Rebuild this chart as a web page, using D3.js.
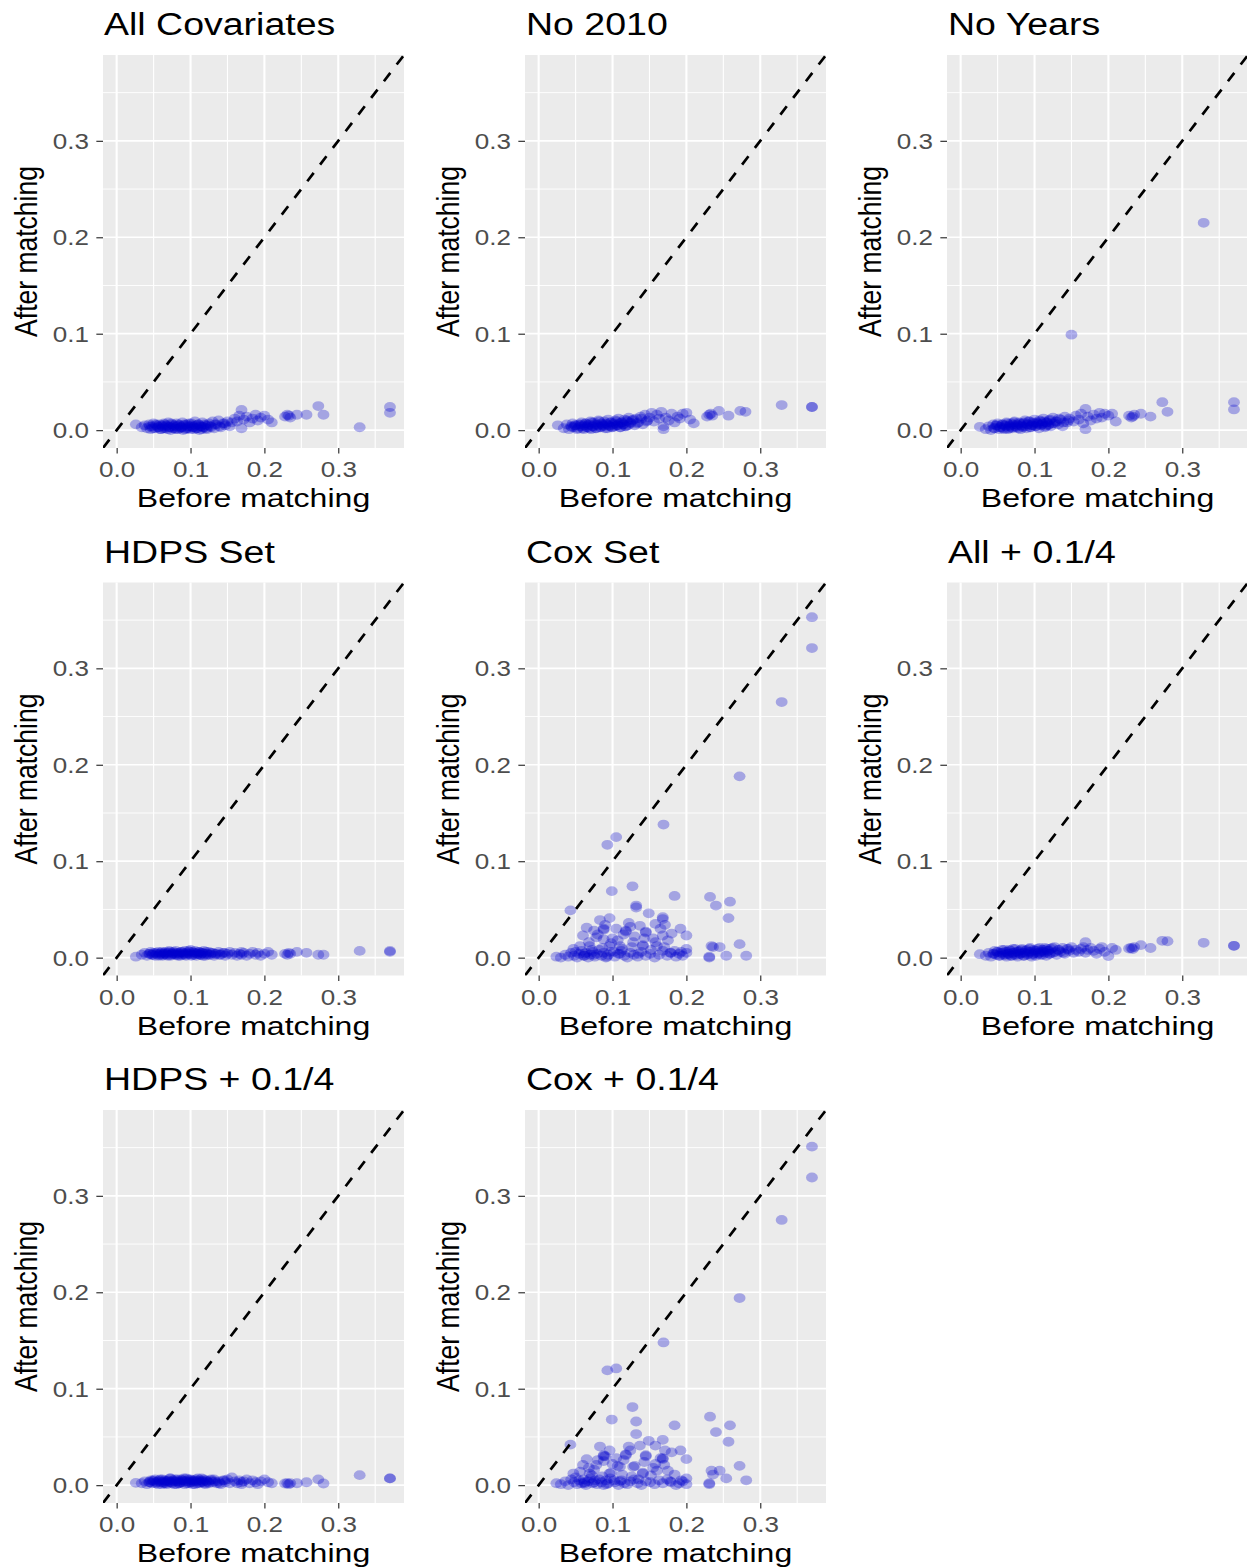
<!DOCTYPE html>
<html>
<head>
<meta charset="utf-8">
<script src="https://cdn.jsdelivr.net/npm/d3@7"></script>
<style>
  body { margin: 0; background: #ffffff; }
  svg text { font-family: "Liberation Sans", Arial, Helvetica, sans-serif; }
</style>
</head>
<body>
<div id="chart"></div>
<script>
// standardized differences before matching, shared by the full covariate sets
const mainBefore = [0.026,
  0.034, 0.038, 0.041, 0.044, 0.046, 0.048, 0.05, 0.052, 0.054, 0.056, 0.058,
  0.06, 0.062, 0.064, 0.066, 0.068, 0.07, 0.071, 0.073, 0.075, 0.077, 0.079, 0.081,
  0.083, 0.085, 0.087, 0.089, 0.09, 0.092, 0.094, 0.096, 0.098, 0.1, 0.102, 0.104,
  0.106, 0.108, 0.11, 0.112, 0.114, 0.116, 0.118, 0.12, 0.122, 0.125, 0.127, 0.13,
  0.132, 0.135, 0.138, 0.141, 0.144, 0.147, 0.15, 0.153, 0.156,
  0.16, 0.163, 0.166, 0.169, 0.169, 0.172, 0.176, 0.18, 0.184, 0.188, 0.191, 0.195, 0.2, 0.205, 0.21,
  0.228, 0.231, 0.233, 0.235,
  0.244, 0.257, 0.273, 0.28, 0.329, 0.37, 0.37,
  0.045, 0.049, 0.053, 0.057, 0.059, 0.061, 0.063, 0.065, 0.067, 0.069,
  0.072, 0.074, 0.076, 0.078, 0.08, 0.082, 0.084, 0.086, 0.088, 0.091,
  0.093, 0.095, 0.097, 0.099, 0.101, 0.103, 0.105, 0.107, 0.109, 0.111,
  0.113, 0.115, 0.117, 0.119, 0.121, 0.124, 0.128, 0.133, 0.139, 0.146];

const allCovariatesAfter = [0.006,
  0.003, 0.005, 0.002, 0.006, 0.001, 0.004, 0.007, 0.002, 0.005, 0.003, 0.006,
  0.001, 0.004, 0.007, 0.002, 0.005, 0.008, 0.003, 0.0, 0.006, 0.004, 0.002, 0.007,
  0.001, 0.005, 0.003, 0.008, 0.0, 0.006, 0.002, 0.004, 0.007, 0.001, 0.005, 0.003,
  0.009, 0.002, 0.006, 0.0, 0.004, 0.008, 0.003, 0.005, 0.001, 0.007, 0.004, 0.009,
  0.002, 0.006, 0.01, 0.003, 0.007, 0.005, 0.009, 0.004, 0.008,
  0.012, 0.009, 0.015, 0.021, 0.002, 0.011, 0.014, 0.008, 0.012, 0.016, 0.01, 0.013, 0.015, 0.011, 0.008,
  0.014, 0.016, 0.015, 0.013,
  0.016, 0.016, 0.025, 0.016, 0.003, 0.024, 0.018,
  0.004, 0.002, 0.006, 0.003, 0.001, 0.005, 0.002, 0.006, 0.004, 0.001,
  0.003, 0.007, 0.002, 0.005, 0.001, 0.004, 0.006, 0.002, 0.003, 0.005,
  0.001, 0.006, 0.002, 0.004, 0.007, 0.003, 0.001, 0.005, 0.002, 0.006,
  0.004, 0.001, 0.003, 0.006, 0.002, 0.005, 0.003, 0.006, 0.004, 0.007];

const no2010After = [0.005,
  0.002, 0.006, 0.001, 0.004, 0.007, 0.003, 0.005, 0.001, 0.006, 0.004, 0.008,
  0.002, 0.005, 0.007, 0.003, 0.006, 0.009, 0.001, 0.004, 0.008, 0.002, 0.006, 0.01,
  0.003, 0.007, 0.005, 0.009, 0.002, 0.006, 0.011, 0.004, 0.008, 0.003, 0.007, 0.01,
  0.005, 0.012, 0.003, 0.008, 0.006, 0.011, 0.004, 0.009, 0.013, 0.007, 0.01, 0.005,
  0.012, 0.008, 0.014, 0.006, 0.016, 0.01, 0.013, 0.018, 0.009,
  0.016, 0.012, 0.019, 0.004, 0.001, 0.013, 0.01, 0.017, 0.008, 0.014, 0.012, 0.017, 0.018, 0.011, 0.007,
  0.014, 0.016, 0.017, 0.015,
  0.02, 0.015, 0.02, 0.019, 0.026, 0.024, 0.024,
  0.003, 0.005, 0.002, 0.006, 0.004, 0.001, 0.007, 0.003, 0.005, 0.002,
  0.008, 0.004, 0.006, 0.002, 0.005, 0.009, 0.003, 0.006, 0.004, 0.007,
  0.002, 0.005, 0.008, 0.003, 0.006, 0.004, 0.009, 0.005, 0.007, 0.003,
  0.008, 0.006, 0.004, 0.01, 0.005, 0.008, 0.011, 0.007, 0.012, 0.009];

const noYearsAfter = [0.0035,
  0.001, 0.004, 0.0, 0.006, 0.002, 0.005, 0.007, 0.001, 0.003, 0.006, 0.002,
  0.005, 0.008, 0.001, 0.004, 0.007, 0.002, 0.006, 0.009, 0.003, 0.005, 0.008, 0.001,
  0.004, 0.007, 0.01, 0.002, 0.006, 0.009, 0.003, 0.005, 0.008, 0.011, 0.004, 0.007,
  0.002, 0.009, 0.006, 0.012, 0.003, 0.008, 0.005, 0.01, 0.004, 0.013, 0.007, 0.009,
  0.006, 0.011, 0.004, 0.014, 0.008, 0.012, 0.099, 0.009, 0.015,
  0.011, 0.017, 0.007, 0.022, 0.001, 0.014, 0.01, 0.016, 0.012, 0.018, 0.013, 0.017, 0.015, 0.017, 0.009,
  0.015, 0.013, 0.014, 0.016,
  0.017, 0.014, 0.029, 0.019, 0.215, 0.029, 0.0215,
  0.002, 0.005, 0.003, 0.006, 0.001, 0.004, 0.007, 0.002, 0.005, 0.003,
  0.008, 0.004, 0.006, 0.002, 0.007, 0.005, 0.003, 0.008, 0.004, 0.006,
  0.009, 0.003, 0.005, 0.007, 0.004, 0.008, 0.006, 0.01, 0.005, 0.007,
  0.009, 0.004, 0.008, 0.006, 0.011, 0.007, 0.009, 0.012, 0.008, 0.01];

const hdpsSetAfter = [0.001,
  0.003, 0.005, 0.002, 0.004, 0.006, 0.003, 0.005, 0.002, 0.004, 0.006, 0.003,
  0.005, 0.002, 0.004, 0.006, 0.003, 0.005, 0.007, 0.002, 0.004, 0.006, 0.003, 0.005,
  0.002, 0.004, 0.006, 0.003, 0.005, 0.007, 0.002, 0.004, 0.006, 0.008, 0.003, 0.005,
  0.007, 0.002, 0.004, 0.006, 0.003, 0.005, 0.007, 0.002, 0.004, 0.006, 0.003, 0.005,
  0.002, 0.004, 0.006, 0.003, 0.005, 0.002, 0.004, 0.006, 0.003,
  0.005, 0.002, 0.004, 0.006, 0.003, 0.005, 0.002, 0.004, 0.006, 0.003, 0.005, 0.002, 0.004, 0.006, 0.003,
  0.004, 0.003, 0.005, 0.004,
  0.006, 0.005, 0.003, 0.003, 0.007, 0.007, 0.006,
  0.004, 0.003, 0.005, 0.002, 0.004, 0.006, 0.003, 0.005, 0.004, 0.002,
  0.006, 0.003, 0.005, 0.004, 0.007, 0.003, 0.005, 0.002, 0.006, 0.004,
  0.003, 0.005, 0.007, 0.004, 0.002, 0.006, 0.003, 0.005, 0.004, 0.006,
  0.003, 0.005, 0.002, 0.004, 0.006, 0.003, 0.005, 0.004, 0.003, 0.005];

const allQuarterAfter = [0.0036,
  0.002, 0.005, 0.001, 0.004, 0.007, 0.003, 0.006, 0.002, 0.005, 0.008, 0.003,
  0.006, 0.001, 0.004, 0.008, 0.002, 0.005, 0.009, 0.003, 0.006, 0.001, 0.007, 0.004,
  0.009, 0.002, 0.005, 0.008, 0.003, 0.006, 0.01, 0.001, 0.004, 0.007, 0.002, 0.009,
  0.005, 0.003, 0.008, 0.006, 0.01, 0.002, 0.007, 0.004, 0.009, 0.005, 0.011, 0.003,
  0.008, 0.006, 0.01, 0.004, 0.009, 0.007, 0.011, 0.005, 0.008,
  0.006, 0.009, 0.011, 0.016, 0.005, 0.008, 0.01, 0.007, 0.004, 0.009, 0.011, 0.006, 0.0016, 0.01, 0.008,
  0.0095, 0.01, 0.009, 0.011,
  0.013, 0.01, 0.0175, 0.017, 0.0154, 0.0123, 0.0123,
  0.004, 0.006, 0.002, 0.005, 0.008, 0.003, 0.006, 0.004, 0.007, 0.002,
  0.005, 0.009, 0.003, 0.006, 0.004, 0.008, 0.005, 0.002, 0.007, 0.004,
  0.009, 0.006, 0.003, 0.008, 0.005, 0.007, 0.004, 0.01, 0.006, 0.003,
  0.008, 0.005, 0.009, 0.007, 0.004, 0.01, 0.006, 0.008, 0.005, 0.009];

const hdpsQuarterAfter = [0.0024,
  0.002, 0.004, 0.001, 0.003, 0.005, 0.002, 0.004, 0.006, 0.003, 0.001, 0.005,
  0.003, 0.006, 0.002, 0.004, 0.001, 0.005, 0.003, 0.007, 0.002, 0.004, 0.006, 0.001,
  0.004, 0.002, 0.006, 0.003, 0.005, 0.001, 0.007, 0.004, 0.002, 0.006, 0.003, 0.005,
  0.001, 0.004, 0.007, 0.002, 0.005, 0.003, 0.006, 0.001, 0.004, 0.002, 0.005, 0.003,
  0.006, 0.002, 0.004, 0.001, 0.005, 0.003, 0.006, 0.002, 0.008,
  0.004, 0.002, 0.005, 0.003, 0.001, 0.004, 0.006, 0.002, 0.005, 0.003, 0.001, 0.004, 0.006, 0.003, 0.002,
  0.0017, 0.002, 0.001, 0.002,
  0.002, 0.003, 0.006, 0.0017, 0.0104, 0.007, 0.007,
  0.003, 0.005, 0.002, 0.004, 0.006, 0.001, 0.003, 0.005, 0.002, 0.004,
  0.007, 0.003, 0.005, 0.001, 0.004, 0.006, 0.002, 0.003, 0.005, 0.007,
  0.004, 0.002, 0.006, 0.003, 0.005, 0.001, 0.004, 0.006, 0.002, 0.005,
  0.003, 0.007, 0.004, 0.002, 0.005, 0.003, 0.006, 0.004, 0.002, 0.005];

// Cox covariate set
const coxBefore = [
  0.37, 0.37, 0.329, 0.272, 0.169, 0.105, 0.093, 0.099, 0.127, 0.184, 0.232, 0.24, 0.259,
  0.257, 0.043, 0.132, 0.132, 0.272, 0.281, 0.254, 0.231, 0.231, 0.236, 0.245, 0.234,
  0.168, 0.168, 0.149, 0.171, 0.192, 0.2, 0.18, 0.168, 0.158, 0.145, 0.145, 0.118, 0.118, 0.115,
  0.096, 0.083, 0.065, 0.088, 0.088, 0.06, 0.088, 0.078, 0.124, 0.137, 0.128, 0.141, 0.141,
  0.11, 0.096, 0.069, 0.047, 0.17, 0.184, 0.2, 0.193, 0.158, 0.175, 0.105, 0.1, 0.075, 0.13, 0.155,
  0.024, 0.03, 0.036, 0.04, 0.044, 0.048, 0.052, 0.055, 0.058, 0.061, 0.064, 0.067, 0.07, 0.073,
  0.076, 0.079, 0.082, 0.085, 0.088, 0.091, 0.094, 0.097, 0.103, 0.108, 0.112, 0.116, 0.12, 0.124,
  0.129, 0.134, 0.139, 0.145, 0.151, 0.157, 0.163, 0.168, 0.174, 0.179, 0.186, 0.19, 0.195, 0.2,
  0.05, 0.056, 0.062, 0.068, 0.072, 0.08, 0.086, 0.09, 0.098, 0.102,
  0.107, 0.113, 0.122, 0.126, 0.135, 0.143, 0.152, 0.16, 0.165, 0.178,
  0.062, 0.075, 0.092, 0.11];

const coxSetAfter = [
  0.353, 0.321, 0.265, 0.188, 0.138, 0.125, 0.117, 0.069, 0.074, 0.064, 0.063, 0.054, 0.058,
  0.041, 0.049, 0.054, 0.052, 0.014, 0.002, 0.002, 0.0, 0.001, 0.011, 0.011, 0.012,
  0.042, 0.04, 0.046, 0.034, 0.03, 0.023, 0.025, 0.023, 0.016, 0.027, 0.026, 0.027, 0.028, 0.024,
  0.041, 0.039, 0.031, 0.03, 0.029, 0.023, 0.019, 0.021, 0.032, 0.033, 0.016, 0.012, 0.013,
  0.012, 0.012, 0.012, 0.009, 0.011, 0.007, 0.009, 0.006, 0.035, 0.018, 0.03, 0.02, 0.028, 0.022, 0.02,
  0.001, 0.0, 0.003, 0.001, 0.005, 0.002, 0.0, 0.004, 0.007, 0.002, 0.005, 0.0, 0.003, 0.006,
  0.001, 0.004, 0.008, 0.002, 0.005, 0.0, 0.003, 0.006, 0.001, 0.004, 0.007, 0.002, 0.0, 0.005,
  0.003, 0.001, 0.006, 0.002, 0.004, 0.0, 0.003, 0.007, 0.002, 0.005, 0.001, 0.004, 0.002, 0.005,
  0.006, 0.012, 0.004, 0.016, 0.008, 0.024, 0.01, 0.034, 0.015, 0.006,
  0.018, 0.009, 0.036, 0.011, 0.004, 0.02, 0.008, 0.012, 0.03, 0.005,
  0.002, 0.003, 0.001, 0.004];

const coxQuarterAfter = [
  0.351, 0.319, 0.275, 0.194, 0.148, 0.121, 0.119, 0.068, 0.081, 0.062, 0.071, 0.055, 0.062,
  0.045, 0.042, 0.066, 0.053, 0.02, 0.005, 0.007, 0.001, 0.002, 0.011, 0.015, 0.015,
  0.047, 0.027, 0.046, 0.036, 0.036, 0.027, 0.034, 0.028, 0.022, 0.031, 0.03, 0.031, 0.032, 0.026,
  0.036, 0.04, 0.027, 0.031, 0.03, 0.021, 0.025, 0.021, 0.036, 0.041, 0.019, 0.012, 0.013,
  0.019, 0.012, 0.012, 0.012, 0.021, 0.011, 0.007, 0.005, 0.041, 0.015, 0.028, 0.022, 0.016, 0.02, 0.018,
  0.002, 0.001, 0.004, 0.0, 0.006, 0.003, 0.001, 0.005, 0.002, 0.006, 0.0, 0.004, 0.007, 0.002,
  0.005, 0.001, 0.006, 0.003, 0.0, 0.005, 0.002, 0.007, 0.003, 0.0, 0.005, 0.002, 0.001, 0.004,
  0.006, 0.002, 0.0, 0.004, 0.003, 0.001, 0.005, 0.002, 0.006, 0.003, 0.0, 0.002, 0.004, 0.001,
  0.008, 0.014, 0.003, 0.018, 0.01, 0.026, 0.009, 0.03, 0.013, 0.005,
  0.02, 0.011, 0.04, 0.009, 0.006, 0.024, 0.01, 0.015, 0.028, 0.004,
  0.002, 0.003, 0.001, 0.004];

const panelTitles = ["All Covariates", "No 2010", "No Years", "HDPS Set", "Cox Set",
  "All + 0.1/4", "HDPS + 0.1/4", "Cox + 0.1/4"];
const majorTicks = [0.0, 0.1, 0.2, 0.3];
const minorTicks = [0.05, 0.15, 0.25, 0.35];
const axisDomain = [-0.0185, 0.389];

const panels = [
  { title: panelTitles[0], before: mainBefore, after: allCovariatesAfter },
  { title: panelTitles[1], before: mainBefore, after: no2010After },
  { title: panelTitles[2], before: mainBefore, after: noYearsAfter },
  { title: panelTitles[3], before: mainBefore, after: hdpsSetAfter },
  { title: panelTitles[4], before: coxBefore, after: coxSetAfter },
  { title: panelTitles[5], before: mainBefore, after: allQuarterAfter },
  { title: panelTitles[6], before: mainBefore, after: hdpsQuarterAfter },
  { title: panelTitles[7], before: coxBefore, after: coxQuarterAfter }
];

// the source picture is stretched sideways, so text and points get widened too
const stretch = 1.21;
const width = 1247, height = 1567;
const panelW = 301, panelH = 393;
const colStep = 422, rowStep = 527.5;
const left0 = 103, top0 = 55;

const svg = d3.select("#chart")
  .append("svg")
  .attr("width", width)
  .attr("height", height);

const defs = svg.append("defs");

function wideText(g, x, y, txt, size, anchor, rotate) {
  g.append("text")
    .attr("transform", `translate(${x},${y}) scale(${stretch},1)` + (rotate ? " rotate(-90)" : ""))
    .attr("text-anchor", anchor)
    .attr("font-size", size + "px")
    .attr("fill", "#000000")
    .text(txt);
}

panels.forEach((p, i) => {
  const col = i % 3, row = Math.floor(i / 3);
  const x0 = left0 + col * colStep, y0 = top0 + row * rowStep;

  const x = d3.scaleLinear().domain(axisDomain).range([x0, x0 + panelW]);
  const y = d3.scaleLinear().domain(axisDomain).range([y0 + panelH, y0]);

  const g = svg.append("g");

  defs.append("clipPath").attr("id", "clip" + i)
    .append("rect")
    .attr("x", x0).attr("y", y0)
    .attr("width", panelW).attr("height", panelH);

  g.append("rect")
    .attr("x", x0).attr("y", y0)
    .attr("width", panelW).attr("height", panelH)
    .attr("fill", "#ebebeb");

  // grid lines
  g.selectAll(".vminor").data(minorTicks).join("line")
    .attr("x1", d => x(d)).attr("x2", d => x(d))
    .attr("y1", y0).attr("y2", y0 + panelH)
    .attr("stroke", "#ffffff").attr("stroke-width", 1.1);
  g.selectAll(".hminor").data(minorTicks).join("line")
    .attr("y1", d => y(d)).attr("y2", d => y(d))
    .attr("x1", x0).attr("x2", x0 + panelW)
    .attr("stroke", "#ffffff").attr("stroke-width", 0.9);
  g.selectAll(".vmajor").data(majorTicks).join("line")
    .attr("x1", d => x(d)).attr("x2", d => x(d))
    .attr("y1", y0).attr("y2", y0 + panelH)
    .attr("stroke", "#ffffff").attr("stroke-width", 2.1);
  g.selectAll(".hmajor").data(majorTicks).join("line")
    .attr("y1", d => y(d)).attr("y2", d => y(d))
    .attr("x1", x0).attr("x2", x0 + panelW)
    .attr("stroke", "#ffffff").attr("stroke-width", 1.7);

  // points
  const pts = d3.range(Math.min(p.before.length, p.after.length))
    .map(k => [p.before[k], p.after[k]]);
  g.append("g").attr("clip-path", `url(#clip${i})`)
    .selectAll("ellipse").data(pts).join("ellipse")
    .attr("cx", d => x(d[0]))
    .attr("cy", d => y(d[1]))
    .attr("rx", 4.9 * stretch)
    .attr("ry", 4.9)
    .attr("fill", "#0000cd")
    .attr("fill-opacity", 0.3);

  // y = x reference
  g.append("line")
    .attr("clip-path", `url(#clip${i})`)
    .attr("x1", x(axisDomain[0])).attr("y1", y(axisDomain[0]))
    .attr("x2", x(axisDomain[1])).attr("y2", y(axisDomain[1]))
    .attr("stroke", "#000000")
    .attr("stroke-width", 2.7)
    .attr("stroke-dasharray", "10.5,10.5");

  // axes
  const tickLen = 5.5;
  const xAxis = g.append("g")
    .attr("transform", `translate(0,${y0 + panelH})`)
    .call(d3.axisBottom(x).tickValues(majorTicks).tickSize(tickLen).tickPadding(8.5).tickFormat(d3.format(".1f")));
  const yAxis = g.append("g")
    .attr("transform", `translate(${x0},0)`)
    .call(d3.axisLeft(y).tickValues(majorTicks).tickSize(tickLen * stretch).tickFormat(d3.format(".1f")));

  [xAxis, yAxis].forEach(ax => {
    ax.select(".domain").remove();
    ax.selectAll(".tick line").attr("stroke", "#333333").attr("stroke-width", 1.2);
    ax.selectAll(".tick text")
      .attr("fill", "#4d4d4d")
      .attr("font-size", "21.5px")
      .attr("font-family", "'Liberation Sans', Arial, sans-serif");
  });
  xAxis.selectAll(".tick text").attr("transform", `scale(${stretch},1)`);
  yAxis.selectAll(".tick text")
    .attr("x", -14 / stretch)
    .attr("dy", "0.35em")
    .attr("transform", `scale(${stretch},1)`);

  // labels
  wideText(g, x0 + 1, y0 - 20, p.title, 31, "start", false);
  wideText(g, x0 + panelW / 2, y0 + panelH + 59, "Before matching", 26.5, "middle", false);
  wideText(g, x0 - 66, y0 + panelH / 2, "After matching", 26.5, "middle", true);
});
</script>
</body>
</html>
